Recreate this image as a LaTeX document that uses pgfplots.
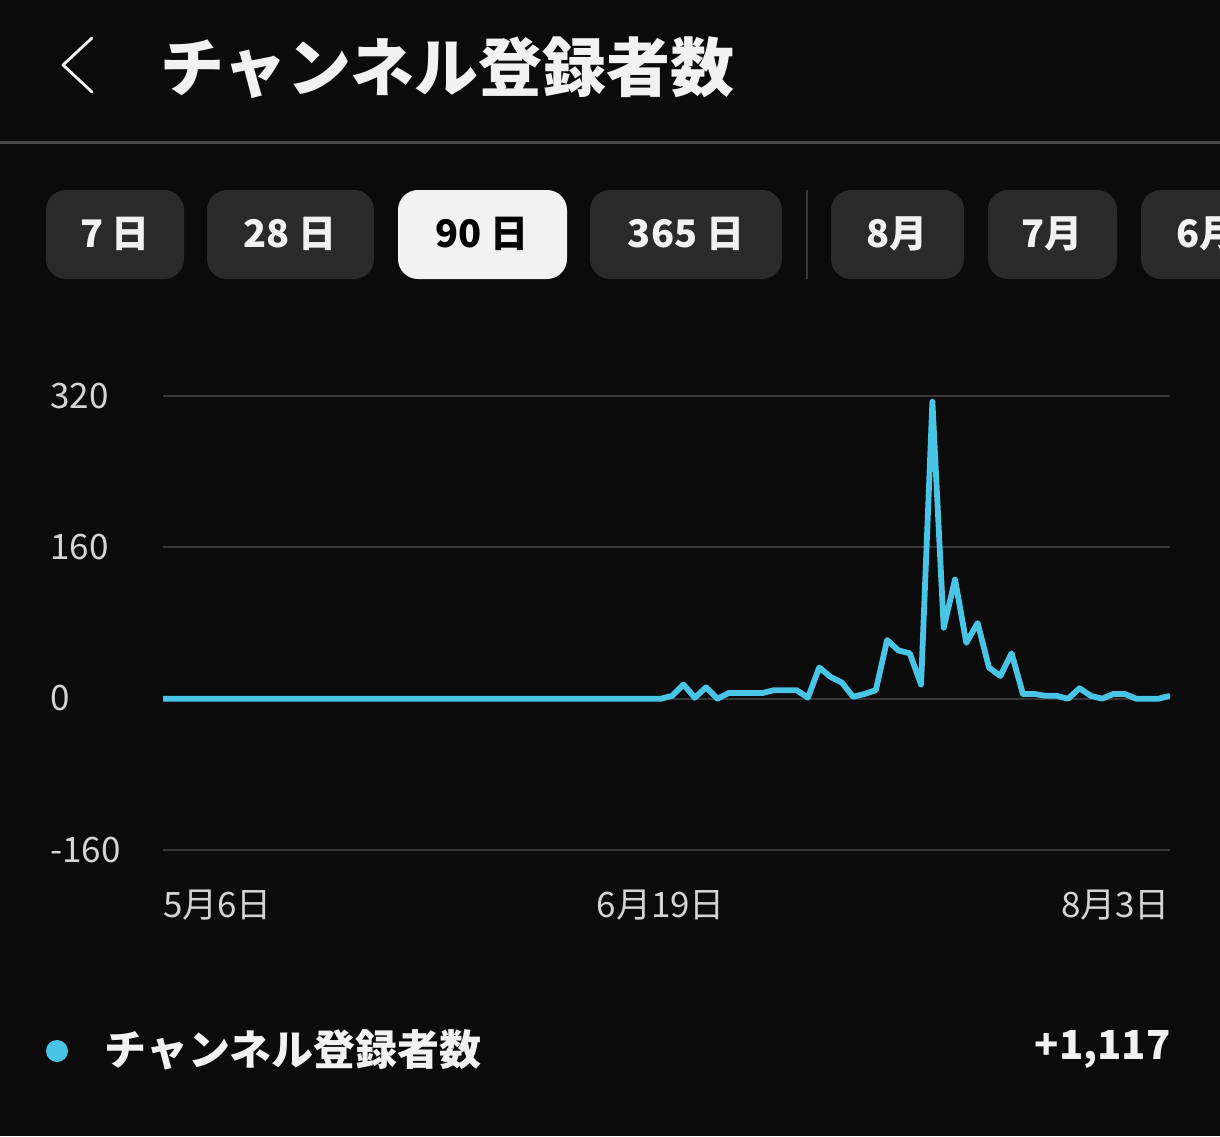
\documentclass[border=0pt]{standalone}
\usepackage{pgfplots}
\pgfplotsset{compat=1.18}
\usepackage{fontspec}
\setmainfont{Noto Sans CJK JP}
\definecolor{bg}{HTML}{0B0B0B}
\definecolor{btn}{HTML}{2A2A2A}
\definecolor{gridc}{HTML}{363636}
\definecolor{linec}{HTML}{48C4E6}
\definecolor{tickc}{HTML}{D4D4D4}
\definecolor{sepc}{HTML}{4A4A4A}
\definecolor{txt}{HTML}{F2F2F2}

\pgfplotstableread{
day val
0 0
1 0
2 0
3 0
4 0
5 0
6 0
7 0
8 0
9 0
10 0
11 0
12 0
13 0
14 0
15 0
16 0
17 0
18 0
19 0
20 0
21 0
22 0
23 0
24 0
25 0
26 0
27 0
28 0
29 0
30 0
31 0
32 0
33 0
34 0
35 0
36 0
37 0
38 0
39 0
40 0
41 0
42 0
43 0
44 0
45 3
46 15
47 1
48 12
49 0
50 6
51 6
52 6
53 6
54 9
55 9
56 9
57 1
58 33
59 23
60 17
61 2
62 5
63 9
64 62
65 51
66 48
67 15
68 314
69 75
70 126
71 59
72 80
73 33
74 24
75 48
76 5
77 5
78 3
79 3
80 0
81 11
82 3
83 0
84 5
85 5
86 0
87 0
88 0
89 3
}\subs

\begin{document}
\begin{tikzpicture}
\path[use as bounding box, fill=bg] (0,0) rectangle (610pt,-568pt);
\begin{scope}[x=0.5pt,y=-0.5pt]
  % header
  \draw[txt, line width=1.4pt, line cap=round, line join=round] (92,38) -- (63,65) -- (92,92);
  \node[anchor=west, inner sep=0, text=txt, font=\bfseries\fontsize{32pt}{32pt}\selectfont] at (160,68) {チャンネル登録者数};
  \draw[sepc, line width=1.5pt] (0,142) -- (1220,142);
  % buttons
  \tikzset{btnbox/.style={fill=btn, rounded corners=10pt}, btntxt/.style={text=txt, font=\bfseries\fontsize{19pt}{19pt}\selectfont, inner sep=0}}
  \fill[btnbox] (46,190) rectangle (184,279);
  \node[btntxt] at (115,234) {7 日};
  \fill[btnbox] (207,190) rectangle (374,279);
  \node[btntxt] at (290,234) {28 日};
  \fill[fill=txt, rounded corners=10pt] (398,190) rectangle (567,279);
  \node[btntxt, text=black] at (482,234) {90 日};
  \fill[btnbox] (590,190) rectangle (782,279);
  \node[btntxt] at (686,234) {365 日};
  \draw[gridc, line width=1pt] (807,190) -- (807,279);
  \fill[btnbox] (831,190) rectangle (964,279);
  \node[btntxt] at (897,234) {8月};
  \fill[btnbox] (988,190) rectangle (1117,279);
  \node[btntxt] at (1052,234) {7月};
  \fill[btnbox] (1141,190) rectangle (1274,279);
  \node[btntxt] at (1207,234) {6月};
  % legend
  \fill[linec] (57,1051) circle (5.5pt);
  \node[anchor=west, inner sep=0, text=txt, font=\bfseries\fontsize{21pt}{21pt}\selectfont] at (104,1050) {チャンネル登録者数};
  \node[anchor=east, inner sep=0, text=txt, font=\bfseries\fontsize{20pt}{20pt}\selectfont] at (1171,1050) {+1,117};
\end{scope}
\begin{axis}[
  at={(81.5pt,-425pt)}, anchor=south west,
  scale only axis, width=503.5pt, height=227pt,
  xmin=0, xmax=89, ymin=-160, ymax=320,
  axis line style={draw=none},
  major tick length=0pt,
  ytick={-160,0,160,320},
  ymajorgrids, grid style={gridc, line width=1pt},
  /pgf/number format/assume math mode=true,
  yticklabel style={anchor=base west, inner sep=0pt, xshift=-56.5pt, yshift=-6pt, text=tickc, font=\fontsize{17.5pt}{17.5pt}\selectfont},
  xtick={0,44,89},
  xticklabels={\makebox[0pt][l]{5月6日},6月19日,\makebox[0pt][r]{8月3日}},
  xticklabel style={anchor=base, inner sep=0pt, yshift=-33.5pt, text=tickc, font=\fontsize{17.5pt}{17.5pt}\selectfont},
]
\addplot[linec, line width=2.9pt, line join=round, no marks] table[x=day, y=val] {\subs};
\end{axis}
\end{tikzpicture}
\end{document}
